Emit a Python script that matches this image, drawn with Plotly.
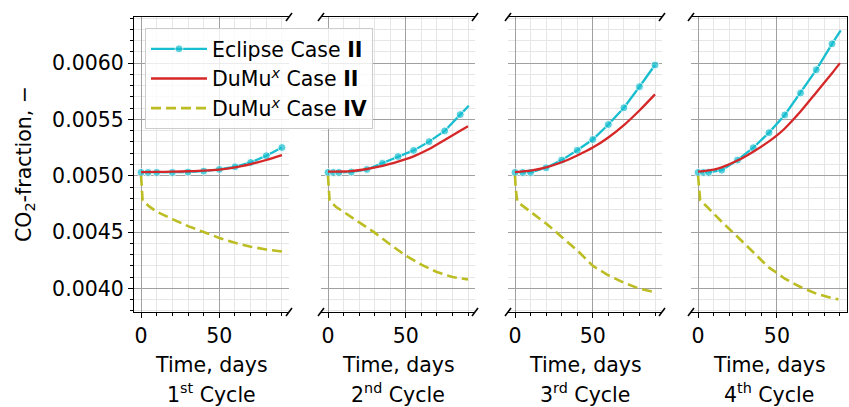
import plotly.graph_objects as go

# ---------------- data ----------------
cycle_labels = ["1<sup>st</sup> Cycle", "2<sup>nd</sup> Cycle", "3<sup>rd</sup> Cycle", "4<sup>th</sup> Cycle"]
series_names = ["Eclipse Case <b>II</b>", "DuMu<sup><i>x</i></sup> Case <b>II</b>", "DuMu<sup><i>x</i></sup> Case <b>IV</b>"]

# Eclipse Case II (markers; last value of cycles 2 and 4 is the line end, no marker)
ecl_t1 = [0, 4.5, 10, 20, 30, 40, 50, 60, 70, 80, 90]
ecl_y1 = [0.005030, 0.005030, 0.005030, 0.005030, 0.005033, 0.005041, 0.005056, 0.005080, 0.005118, 0.005178, 0.005251]
ecl_t2 = [0, 3.5, 7, 15, 25, 35, 45, 55, 65, 75, 85, 90.5]
ecl_y2 = [0.005030, 0.005030, 0.005030, 0.005033, 0.005056, 0.005110, 0.005171, 0.005225, 0.005303, 0.005398, 0.005543, 0.005622]
ecl_t3 = [0, 5, 10, 20, 30, 40, 50, 60, 70, 80, 90]
ecl_y3 = [0.005030, 0.005030, 0.005030, 0.005071, 0.005139, 0.005226, 0.005322, 0.005455, 0.005604, 0.005791, 0.005984]
ecl_t4 = [0, 3.4, 6.7, 15, 25, 35, 45, 55, 65, 75, 85, 90.5]
ecl_y4 = [0.005030, 0.005030, 0.005030, 0.005050, 0.005139, 0.005249, 0.005383, 0.005540, 0.005735, 0.005941, 0.006172, 0.006292]
ecl_has_marker = [
    [True] * 11,
    [True] * 11 + [False],
    [True] * 11,
    [True] * 11 + [False],
]

# DuMux Case II
d2_t1 = [0, 10, 20, 30, 40, 50, 60, 70, 80, 90]
d2_y1 = [0.005033, 0.005034, 0.005036, 0.005040, 0.005045, 0.005055, 0.005074, 0.005104, 0.005140, 0.005183]
d2_t2 = [0, 10, 15, 25, 35, 45, 50, 55, 65, 75, 85, 90]
d2_y2 = [0.005036, 0.005038, 0.005041, 0.005060, 0.005087, 0.005125, 0.005147, 0.005172, 0.005237, 0.005318, 0.005400, 0.005440]
d2_t3 = [0, 10, 20, 30, 40, 50, 60, 70, 80, 90]
d2_y3 = [0.005033, 0.005045, 0.005074, 0.005120, 0.005180, 0.005250, 0.005340, 0.005450, 0.005580, 0.005723]
d2_t4 = [0, 10, 15, 25, 35, 45, 50, 55, 65, 75, 85, 90]
d2_y4 = [0.005036, 0.005055, 0.005075, 0.005135, 0.005214, 0.005305, 0.005358, 0.005420, 0.005570, 0.005740, 0.005910, 0.006000]

# DuMux Case IV
d4_t1 = [0, 0.5, 1, 5, 10, 20, 30, 40, 50, 60, 70, 80, 90]
d4_y1 = [0.005000, 0.004880, 0.004780, 0.004730, 0.004680, 0.004615, 0.004553, 0.004500, 0.004448, 0.004405, 0.004370, 0.004345, 0.004328]
d4_t2 = [0, 0.5, 1, 5, 10, 20, 30, 40, 50, 60, 70, 80, 90]
d4_y2 = [0.005000, 0.004880, 0.004780, 0.004725, 0.004680, 0.004590, 0.004495, 0.004390, 0.004290, 0.004210, 0.004145, 0.004100, 0.004080]
d4_t3 = [0, 0.5, 1.5, 10, 20, 30, 40, 50, 60, 70, 80, 88]
d4_y3 = [0.005000, 0.004880, 0.004769, 0.004680, 0.004576, 0.004457, 0.004338, 0.004200, 0.004116, 0.004050, 0.003997, 0.003972]
d4_t4 = [0, 0.5, 1.3, 6.7, 15, 25, 35, 45, 50, 55, 65, 75, 85, 89]
d4_y4 = [0.005000, 0.004890, 0.004784, 0.004710, 0.004591, 0.004458, 0.004323, 0.004184, 0.004138, 0.004086, 0.004012, 0.003953, 0.003914, 0.003902]

ecl_t = [ecl_t1, ecl_t2, ecl_t3, ecl_t4]
ecl_y = [ecl_y1, ecl_y2, ecl_y3, ecl_y4]
d2_t = [d2_t1, d2_t2, d2_t3, d2_t4]
d2_y = [d2_y1, d2_y2, d2_y3, d2_y4]
d4_t = [d4_t1, d4_t2, d4_t3, d4_t4]
d4_y = [d4_y1, d4_y2, d4_y3, d4_y4]

y_ticks = [0.0040, 0.0045, 0.0050, 0.0055, 0.0060]
x_ticks = [0, 50]

# ---------------- layout geometry ----------------
W, H = 849, 407
panel_px = [(134, 289), (321, 475), (508, 662), (691, 847)]
top_px, bot_px = 17, 312
FONT = "DejaVu Sans"
FS = 20.5

C_ECL = "#17becf"
C_D2 = "#d62728"
C_D4 = "#bcbd22"

def px(x):
    return x / W

def py(y):
    return 1 - y / H

fig = go.Figure()

for i in range(4):
    xa = "x" if i == 0 else f"x{i+1}"
    ya = "y" if i == 0 else f"y{i+1}"
    sizes = [8 if m else 0 for m in ecl_has_marker[i]]
    fig.add_trace(go.Scatter(
        x=ecl_t[i], y=ecl_y[i], mode="lines+markers", xaxis=xa, yaxis=ya,
        line=dict(color=C_ECL, width=2.3), marker=dict(color=C_ECL, size=sizes),
        name=series_names[0], showlegend=(i == 0), legendgroup="ecl"))
    fig.add_trace(go.Scatter(
        x=d2_t[i], y=d2_y[i], mode="lines", xaxis=xa, yaxis=ya,
        line=dict(color=C_D2, width=2.3, shape="spline", smoothing=0.6),
        name=series_names[1], showlegend=(i == 0), legendgroup="d2"))
    fig.add_trace(go.Scatter(
        x=d4_t[i], y=d4_y[i], mode="lines", xaxis=xa, yaxis=ya,
        line=dict(color=C_D4, width=2.6, dash="10px,5px"),
        name=series_names[2], showlegend=(i == 0), legendgroup="d4"))

layout = {}
for i in range(4):
    a, b = panel_px[i]
    xkey = "xaxis" if i == 0 else f"xaxis{i+1}"
    ykey = "yaxis" if i == 0 else f"yaxis{i+1}"
    layout[xkey] = dict(
        domain=[px(a), px(b)], range=[-4.5, 94.5], anchor="y" if i == 0 else f"y{i+1}",
        tickvals=x_ticks, ticktext=[str(v) for v in x_ticks],
        showline=True, linecolor="black", linewidth=1.1, mirror=True,
        ticks="outside", ticklen=5, tickwidth=1.1, tickcolor="black",
        showgrid=True, gridcolor="#a0a0a0", gridwidth=1.3, zeroline=False,
        tickfont=dict(family=FONT, size=FS, color="black"),
        minor=dict(tick0=0, dtick=10, ticks="outside", ticklen=3, tickwidth=1,
                   tickcolor="black", showgrid=True, gridcolor="#e6e6e6", gridwidth=1),
    )
    ydict = dict(
        domain=[py(bot_px), py(top_px)], range=[0.00379, 0.00641],
        anchor="x" if i == 0 else f"x{i+1}",
        tickvals=y_ticks, ticktext=[f"{v:.4f}" for v in y_ticks],
        showgrid=True, gridcolor="#a0a0a0", gridwidth=1.3, zeroline=False,
        tickfont=dict(family=FONT, size=FS, color="black"),
        minor=dict(tick0=0.0040, dtick=0.0001, showgrid=True, gridcolor="#e6e6e6", gridwidth=1),
    )
    if i == 0:
        ydict.update(showline=True, linecolor="black", linewidth=1.1, mirror=False,
                     ticks="outside", ticklen=5, tickwidth=1.1, tickcolor="black")
        ydict["minor"].update(ticks="outside", ticklen=3, tickwidth=1, tickcolor="black")
    elif i == 3:
        ydict.update(showline=True, linecolor="black", linewidth=1.1, side="right",
                     showticklabels=False, ticks="")
    else:
        ydict.update(showline=False, showticklabels=False, ticks="")
    layout[ykey] = ydict

# break marks
shapes = []
for i, (a, b) in enumerate(panel_px):
    edges = []
    if i > 0:
        edges.append(a)
    if i < 3:
        edges.append(b)
    for ex in edges:
        for ey in (top_px, bot_px):
            shapes.append(dict(type="line", xref="paper", yref="paper",
                               x0=px(ex - 3), y0=py(ey + 4), x1=px(ex + 3), y1=py(ey - 4),
                               line=dict(color="black", width=1.6)))

annotations = []
for i, (a, b) in enumerate(panel_px):
    cx = px((a + b) / 2)
    annotations.append(dict(text="Time, days", x=cx, y=py(365), xref="paper", yref="paper",
                            showarrow=False, xanchor="center", yanchor="middle",
                            font=dict(family=FONT, size=FS, color="black")))
    annotations.append(dict(text=cycle_labels[i], x=cx, y=py(393), xref="paper", yref="paper",
                            showarrow=False, xanchor="center", yanchor="middle",
                            font=dict(family=FONT, size=FS, color="black")))
annotations.append(dict(text="CO<sub>2</sub>-fraction, \u2212", x=px(25), y=py(164),
                        xref="paper", yref="paper", showarrow=False, textangle=-90,
                        xanchor="center", yanchor="middle",
                        font=dict(family=FONT, size=FS, color="black")))

fig.update_layout(
    width=W, height=H, margin=dict(l=0, r=0, t=0, b=0),
    paper_bgcolor="white", plot_bgcolor="white",
    font=dict(family=FONT, size=FS, color="black"),
    shapes=shapes, annotations=annotations,
    legend=dict(x=px(145), y=py(28), xanchor="left", yanchor="top",
                bgcolor="rgba(255,255,255,0.8)", bordercolor="#cccccc", borderwidth=1,
                font=dict(family=FONT, size=FS, color="black"), itemwidth=56,
                tracegroupgap=0),
    **layout,
)

fig.write_html("out.html", config={"displayModeBar": False},
               post_script="document.body.style.margin='0px';")
